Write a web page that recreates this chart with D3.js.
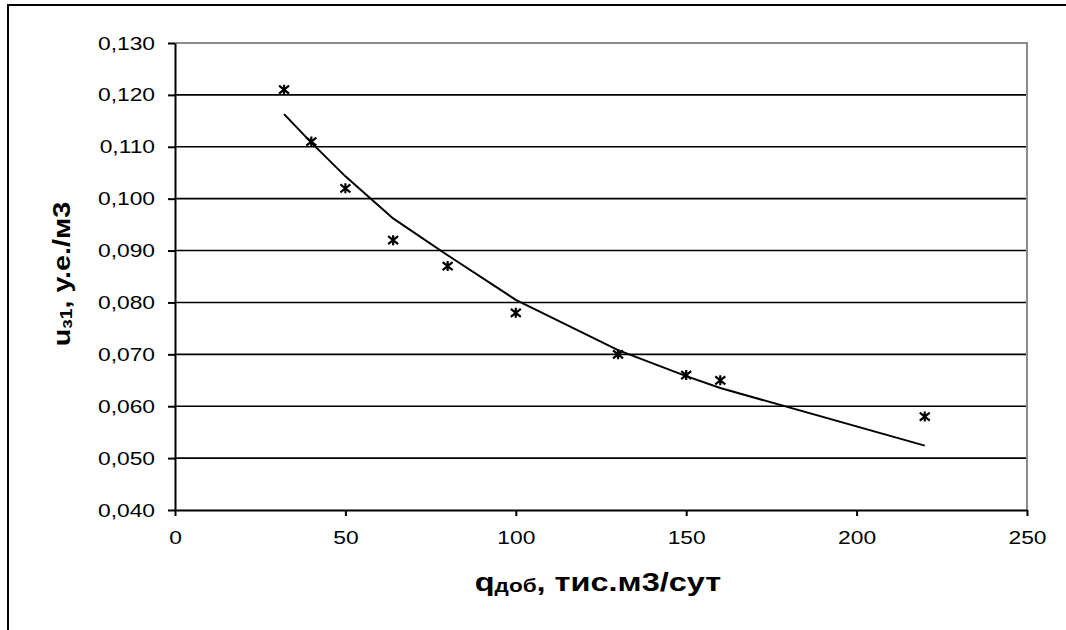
<!DOCTYPE html>
<html>
<head>
<meta charset="utf-8">
<script src="https://cdn.jsdelivr.net/npm/d3@7"></script>
<style>
  body { margin: 0; background: #fff; }
  svg { display: block; font-family: "Liberation Sans", Arial, sans-serif; }
</style>
</head>
<body>
<div id="viscontainer"></div>
<script>
// measured points
const qValues = [32, 40, 50, 64, 80, 100, 130, 150, 160, 220];
const uValues = [0.121, 0.111, 0.102, 0.092, 0.087, 0.078, 0.070, 0.066, 0.065, 0.058];
// trend line at the same q
const trendValues = [0.1163, 0.1108, 0.1043, 0.0962, 0.0891, 0.0805, 0.0708, 0.0658, 0.0635, 0.0524];

const xTicks = [0, 50, 100, 150, 200, 250];
const yTicks = [0.04, 0.05, 0.06, 0.07, 0.08, 0.09, 0.1, 0.11, 0.12, 0.13];

const width = 1066;
const height = 630;
const marginTop = 43;
const marginRight = 39;
const marginBottom = 120;
const marginLeft = 175;
const stretch = 1.2; // the original text is a bit wider than plain Arial

const svg = d3.create("svg").attr("width", width).attr("height", height);
viscontainer.append(svg.node());

// outer chart frame
svg.append("rect")
  .attr("x", 8).attr("y", 5)
  .attr("width", width + 20).attr("height", height + 20)
  .attr("fill", "none").attr("stroke", "#000").attr("stroke-width", 2);

const xScale = d3.scaleLinear().domain([0, 250]).range([marginLeft, width - marginRight]);
const yScale = d3.scaleLinear().domain([0.04, 0.13]).range([height - marginBottom, marginTop]);

const comma = d3.formatLocale({ decimal: ",", thousands: " ", grouping: [3], currency: ["", ""] });
const fmtY = comma.format(".3f");

// gridlines
svg.append("g")
  .selectAll("line")
  .data(yTicks.slice(1, -1))
  .join("line")
  .attr("x1", xScale(0)).attr("x2", xScale(250))
  .attr("y1", (d) => yScale(d)).attr("y2", (d) => yScale(d))
  .attr("stroke", "#000").attr("stroke-width", 1.6);

// top and right border of plot area
svg.append("path")
  .attr("d", `M${xScale(0)},${yScale(0.13)}H${xScale(250)}V${yScale(0.04)}`)
  .attr("fill", "none").attr("stroke", "#8c8c8c").attr("stroke-width", 2);

const xAxis = svg.append("g")
  .attr("transform", `translate(0, ${yScale(0.04)})`)
  .call(d3.axisBottom(xScale).tickValues(xTicks).tickSize(6).tickSizeOuter(0).tickPadding(15));

const yAxis = svg.append("g")
  .attr("transform", `translate(${xScale(0)}, 0)`)
  .call(d3.axisLeft(yScale).tickValues(yTicks).tickFormat(fmtY).tickSize(7).tickSizeOuter(0).tickPadding(13));

[xAxis, yAxis].forEach((ax) => {
  ax.select(".domain").attr("stroke", "#000").attr("stroke-width", 2);
  ax.selectAll(".tick line").attr("stroke", "#000").attr("stroke-width", 2);
  ax.selectAll(".tick text")
    .attr("fill", "#000")
    .attr("font-size", 19)
    .attr("font-family", "'Liberation Sans', Arial, sans-serif");
});

// trend line
const line = d3.line()
  .x((d, i) => xScale(qValues[i]))
  .y((d) => yScale(d));

svg.append("path")
  .datum(trendValues)
  .attr("d", line)
  .attr("fill", "none")
  .attr("stroke", "#000")
  .attr("stroke-width", 2);

// star markers
const s = 5;
const markers = svg.append("g")
  .selectAll("g")
  .data(qValues)
  .join("g")
  .attr("transform", (d, i) => `translate(${xScale(d)}, ${yScale(uValues[i])})`);

markers.append("path")
  .attr("d", `M${-s},${-s * 0.8}L${s},${s * 0.8}M${-s},${s * 0.8}L${s},${-s * 0.8}M0,${-s}V${s}`)
  .attr("stroke", "#000")
  .attr("stroke-width", 2.2)
  .attr("fill", "none");

// axis titles
const xTitle = svg.append("text")
  .attr("class", "title-x")
  .attr("x", 598)
  .attr("y", 591)
  .attr("text-anchor", "middle")
  .attr("font-size", 26)
  .attr("font-weight", "bold")
  .attr("font-family", "Arial, 'Liberation Sans', sans-serif");
xTitle.append("tspan").text("q");
xTitle.append("tspan").attr("font-size", 18).attr("dy", 1).text("доб");
xTitle.append("tspan").attr("dy", -1).text(", тис.м3/сут");

const yTitle = svg.append("text")
  .attr("transform", `translate(70, 274) rotate(-90)`)
  .attr("text-anchor", "middle")
  .attr("font-size", 24)
  .attr("font-weight", "bold")
  .attr("font-family", "Arial, 'Liberation Sans', sans-serif");
yTitle.append("tspan").text("u");
yTitle.append("tspan").attr("font-size", 16).attr("dy", 2).text("з1");
yTitle.append("tspan").attr("dy", -2).text(", у.е./м3");

// widen all text a little, keeping its anchor point
svg.selectAll("text").each(function () {
  const len = this.getComputedTextLength();
  const k = this.classList.contains("title-x") ? 1.25 : stretch;
  d3.select(this).attr("textLength", len * k).attr("lengthAdjust", "spacingAndGlyphs");
});
</script>
</body>
</html>
